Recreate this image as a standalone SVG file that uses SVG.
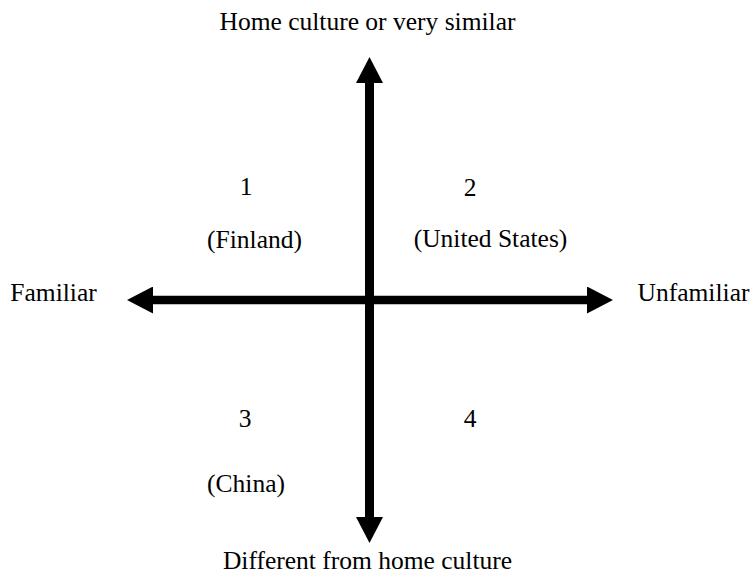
<svg xmlns="http://www.w3.org/2000/svg" width="751" height="576" viewBox="0 0 751 576">
  <style>
    .lbl { font-family: "Liberation Serif", "Times New Roman", serif; font-size: 25.5px; fill: #000; text-anchor: middle; }
    .axis { stroke: #000; fill: none; stroke-linecap: butt; }
  </style>
  <defs>
    <!-- solid triangular head; its base sits on the line end -->
    <marker id="head" viewBox="0 0 26 27" refX="0" refY="13.5" markerWidth="26" markerHeight="27" markerUnits="userSpaceOnUse" orient="auto-start-reverse">
      <path d="M0,0 L26,13.5 L0,27 Z" fill="#000"/>
    </marker>
  </defs>
  <rect width="751" height="576" fill="#fff"/>

  <g id="connectors">
    <line id="axis-vertical" class="axis" x1="369.5" y1="83" x2="369.5" y2="517" stroke-width="9" marker-start="url(#head)" marker-end="url(#head)"/>
    <line id="axis-horizontal" class="axis" x1="153" y1="300" x2="587" y2="300" stroke-width="8.5" marker-start="url(#head)" marker-end="url(#head)"/>
  </g>

  <g id="label-top"><text class="lbl" x="367.5" y="30">Home culture or very similar</text></g>
  <g id="label-bottom"><text class="lbl" x="367.5" y="569">Different from home culture</text></g>
  <g id="label-left"><text class="lbl" x="53.5" y="301">Familiar</text></g>
  <g id="label-right"><text class="lbl" x="693.5" y="301">Unfamiliar</text></g>

  <g id="quadrant-1">
    <text class="lbl" x="246" y="195">1</text>
    <text class="lbl" x="254.5" y="248">(Finland)</text>
  </g>
  <g id="quadrant-2">
    <text class="lbl" x="470" y="196">2</text>
    <text class="lbl" x="490.5" y="247">(United States)</text>
  </g>
  <g id="quadrant-3">
    <text class="lbl" x="245" y="427">3</text>
    <text class="lbl" x="246" y="492">(China)</text>
  </g>
  <g id="quadrant-4">
    <text class="lbl" x="470" y="427">4</text>
  </g>
</svg>
